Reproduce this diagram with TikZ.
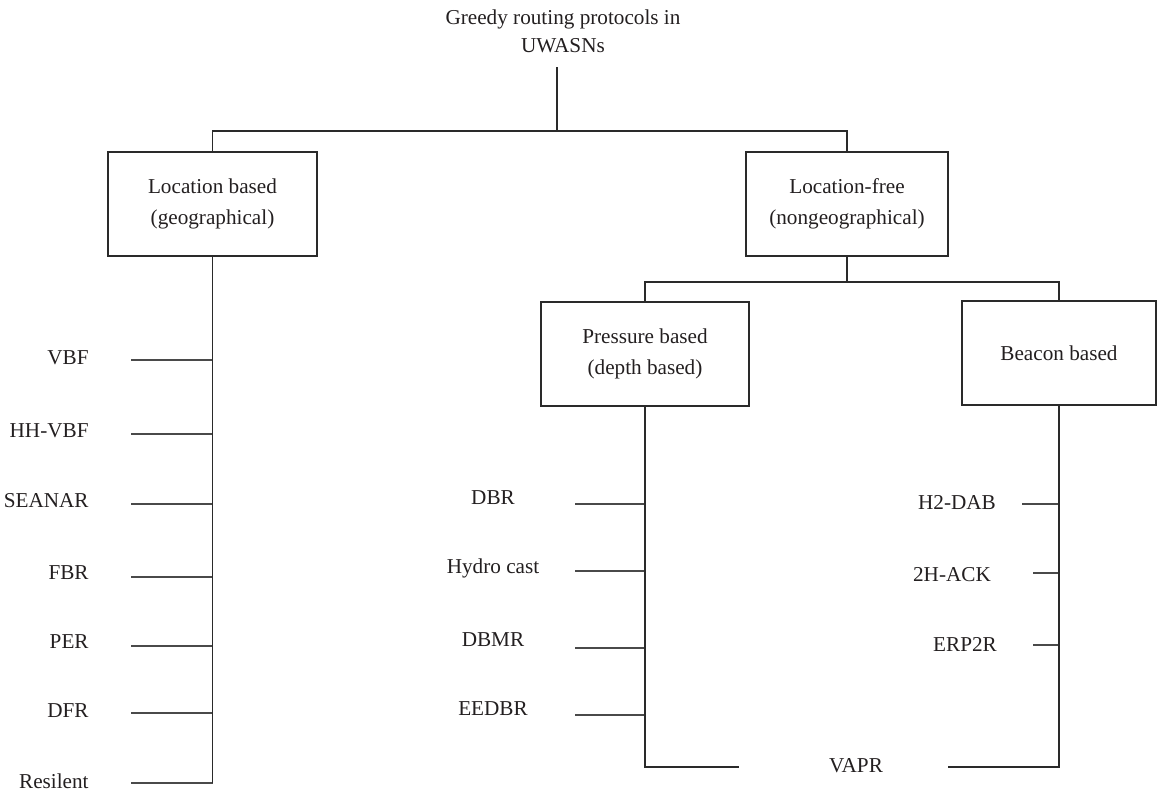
\documentclass[tikz,border=0pt]{standalone}
\usepackage{fontspec}
\setmainfont{Liberation Serif}
\usetikzlibrary{positioning}
\definecolor{ink}{HTML}{231F20}
\definecolor{wire}{HTML}{2A2A2A}

\begin{document}
\begin{tikzpicture}[x=0.5pt,y=-0.5pt,
  catbox/.style={draw=wire,line width=0.65pt,minimum height=52pt,inner sep=0pt,
                 text=ink,font=\fontsize{10.6}{15.5}\selectfont,align=center},
  leaf/.style={inner sep=0pt,text=ink,font=\fontsize{10.6}{13}\selectfont},
  branch/.style={draw=wire,line width=0.75pt},
  twig/.style={draw=wire!85,line width=0.55pt}
]
\useasboundingbox (0,0) rectangle (1158,793);
% root and first split
\node[leaf,align=center,font=\fontsize{10.6}{14}\selectfont] (root) at (563,31) {Greedy routing protocols in\\UWASNs};
\coordinate (rootfoot) at (557,67);
\coordinate (split1) at (557,131);
\node[catbox,minimum width=104.5pt] (loc) at (212.5,204) {Location based\\(geographical)};
\node[catbox,minimum width=101pt] (free) at (847,204) {Location-free\\(nongeographical)};
\draw[branch] (rootfoot) -- (split1) -| (loc.north);
\draw[branch] (split1) -| (free.north);
% second split
\coordinate (split2) at (847,282);
\node[catbox,minimum width=104pt] (press) at (645,354) {Pressure based\\(depth based)};
\node[catbox,minimum width=97pt] (beacon) at (1059,353) {Beacon based};
\draw[branch] (free.south) -- (split2) -| (press.north);
\draw[branch] (split2) -| (beacon.north);
% location based leaves
\foreach \name/\txt/\ty/\ly in {vbf/VBF/358/360, hhvbf/HH-VBF/431/434, seanar/SEANAR/501/504,
    fbr/FBR/573/577, per/PER/642/646, dfr/DFR/711/713, resilent/Resilent/781/783} {
  \node[leaf,anchor=east] (\name) at (89,\ty) {\txt};
  \coordinate (\name-tip) at (131,\ly);
  \draw[twig] (\name-tip) -- (\name-tip -| loc.south);
}
\draw[branch] (loc.south) -- (loc.south |- resilent-tip);
% pressure based leaves
\foreach \name/\txt/\ty/\ly in {dbr/DBR/498/504, hydro/Hydro cast/568/571,
    dbmr/DBMR/640/648, eedbr/EEDBR/709/715} {
  \node[leaf] (\name) at (493,\ty) {\txt};
  \coordinate (\name-tip) at (575,\ly);
  \draw[twig] (\name-tip) -- (\name-tip -| press.south);
}
% beacon based leaves
\foreach \name/\txt/\tx/\ty/\lx/\ly in {h2dab/H2-DAB/957/503/1022/504,
    twohack/2H-ACK/952/575/1033/573, erp2r/ERP2R/965/644/1033/645} {
  \node[leaf] (\name) at (\tx,\ty) {\txt};
  \coordinate (\name-tip) at (\lx,\ly);
  \draw[twig] (\name-tip) -- (\name-tip -| beacon.south);
}
% shared leaf
\node[leaf] (vapr) at (856,766) {VAPR};
\coordinate (vaprL) at (739,767);
\coordinate (vaprR) at (948,767);
\draw[branch] (press.south) |- (vaprL);
\draw[branch] (beacon.south) |- (vaprR);
\end{tikzpicture}
\end{document}
